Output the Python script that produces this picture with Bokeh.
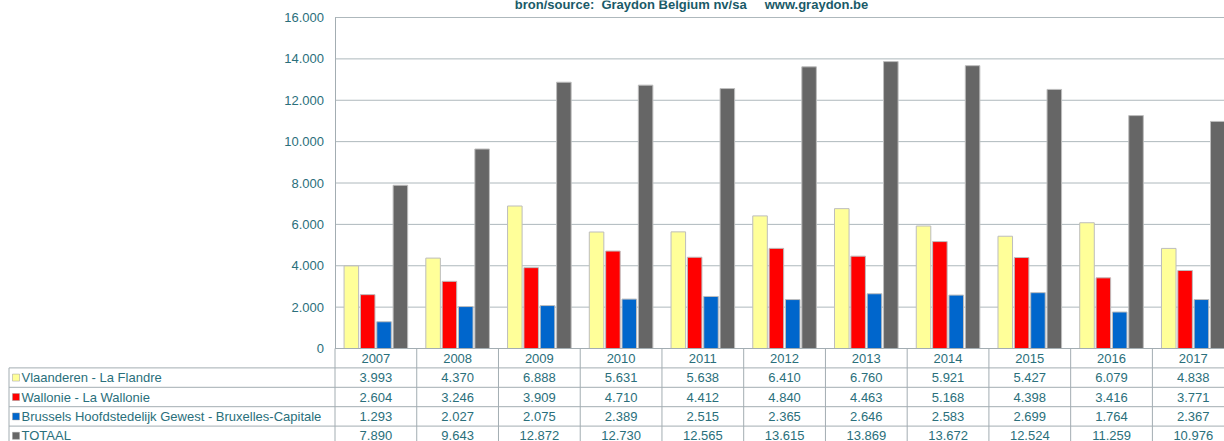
from bokeh.plotting import figure
from bokeh.models import Range1d, FixedTicker, LinearAxis, Label
from bokeh.core.properties import value
from bokeh.embed import file_html
from bokeh.resources import INLINE

# ---------------- data ----------------
years = ["2007", "2008", "2009", "2010", "2011", "2012", "2013", "2014", "2015", "2016", "2017"]
vlaanderen = [3993, 4370, 6888, 5631, 5638, 6410, 6760, 5921, 5427, 6079, 4838]
wallonie = [2604, 3246, 3909, 4710, 4412, 4840, 4463, 5168, 4398, 3416, 3771]
brussel = [1293, 2027, 2075, 2389, 2515, 2365, 2646, 2583, 2699, 1764, 2367]
totaal = [7890, 9643, 12872, 12730, 12565, 13615, 13869, 13672, 12524, 11259, 10976]
series_names = ["Vlaanderen - La Flandre", "Wallonie - La Wallonie",
                "Brussels Hoofdstedelijk Gewest - Bruxelles-Capitale", "TOTAAL"]
y_ticks = [0, 2000, 4000, 6000, 8000, 10000, 12000, 14000, 16000]
tick_labels = ["0", "2.000", "4.000", "6.000", "8.000", "10.000", "12.000", "14.000", "16.000"]
title_text = "bron/source:\u00a0 Graydon Belgium nv/sa \u00a0\u00a0\u00a0 www.graydon.be"

series = [vlaanderen, wallonie, brussel, totaal]
colors = ["#FFFF99", "#FF0000", "#0066CC", "#666666"]

# ---------------- style / layout ----------------
FONT = "Liberation Sans"
TXT = "#2A6F7B"
TITLE_C = "#1A5A68"
GRID = "#AEB8BC"
LINE = "#A3ADB2"

W, H = 1224, 441
CAT_PX = 81.74
AXIS_PX = 334.5      # page x of the value axis
TABLE_LEFT_PX = 8.5  # page x of the table's left border
CHART_TOP = 17       # page y of the 16.000 line
CHART_PX = 331
ROW_PX = 19.4
TABLE_PX = H - CHART_TOP - CHART_PX

x_lo = -AXIS_PX / CAT_PX
x_hi = (W - AXIS_PX) / CAT_PX
YMAX = y_ticks[-1]
y_per_px = YMAX / CHART_PX
y_lo = -TABLE_PX * y_per_px
y_hi = YMAX + CHART_TOP * y_per_px


def fmt(v):
    return f"{v:,}".replace(",", ".")


p = figure(width=W, height=H, x_range=Range1d(x_lo, x_hi), y_range=Range1d(y_lo, y_hi),
           x_axis_location=None, y_axis_location=None,
           output_backend="svg", toolbar_location=None,
           min_border_left=0, min_border_right=0, min_border_top=0, min_border_bottom=0)
p.grid.visible = False
p.outline_line_color = None
p.background_fill_color = "white"
p.border_fill_color = "white"
p.extra_y_ranges = {"table": Range1d(TABLE_PX / ROW_PX, -(CHART_PX + CHART_TOP) / ROW_PX)}

# y axis at x = 0
yax = LinearAxis(fixed_location=0, bounds=(0, YMAX), ticker=FixedTicker(ticks=y_ticks),
                 major_label_overrides={t: l for t, l in zip(y_ticks, tick_labels)})
yax.axis_line_color = LINE
yax.major_tick_line_color = None
yax.minor_tick_line_color = None
yax.major_tick_out = 0
yax.major_tick_in = 0
yax.major_label_standoff = 11
yax.major_label_text_font = FONT
yax.major_label_text_font_size = "13px"
yax.major_label_text_color = TXT
p.add_layout(yax, "left")

# horizontal grid lines
gt = y_ticks[1:]
p.segment(x0=[0] * len(gt), x1=[x_hi] * len(gt), y0=gt, y1=gt, line_color=GRID, line_width=1)

# bars
n = len(years)
for k, (vals, col) in enumerate(zip(series, colors)):
    p.vbar(x=[i + (k + 1) * 0.2 for i in range(n)], top=vals, bottom=0, width=0.178,
           fill_color=col, line_color="#BDBDBD", line_width=1)

# data table
xl = x_lo + TABLE_LEFT_PX / CAT_PX
row_ys = [0, 1, 2, 3, 4]
p.segment(x0=[0] + [xl] * 4, x1=[x_hi] * 5, y0=row_ys, y1=row_ys,
          y_range_name="table", line_color=LINE, line_width=1)
vx = [xl] + list(range(n))
p.segment(x0=vx, x1=vx, y0=[1] + [0] * n, y1=[TABLE_PX / ROW_PX] * (n + 1),
          y_range_name="table", line_color=LINE, line_width=1)

cell_x = [i + 0.5 for i in range(n)]
p.text(x=cell_x, y=[0.5] * n, text=years, y_range_name="table",
       text_align="center", text_baseline="middle", text_font=value(FONT),
       text_font_size="13px", text_color=TXT)
for r, vals in enumerate(series, start=1):
    p.text(x=cell_x, y=[r + 0.5] * n, text=[fmt(v) for v in vals], y_range_name="table",
           text_align="center", text_baseline="middle", text_font=value(FONT),
           text_font_size="13px", text_color=TXT)

leg_y = [r + 0.5 for r in range(1, len(series) + 1)]
p.scatter(x=[xl + 7 / CAT_PX] * len(series), y=leg_y, marker="square", size=7,
          fill_color=colors, line_color="#9A9A9A", line_width=0.5, y_range_name="table")
p.text(x=[xl + 12.5 / CAT_PX] * len(series), y=leg_y, text=series_names, y_range_name="table",
       text_align="left", text_baseline="middle", text_font=value(FONT),
       text_font_size="13px", text_color=TXT)

# title (its top is cut by the picture's edge, as in the source)
p.add_layout(Label(x=(691 - AXIS_PX) / CAT_PX, y=YMAX + (CHART_TOP - 4) * y_per_px, text=title_text,
                   text_align="center", text_baseline="middle", text_font=FONT,
                   text_font_style="bold", text_font_size="13px", text_color=TITLE_C))

open("out.html", "w").write(file_html(p, INLINE))
